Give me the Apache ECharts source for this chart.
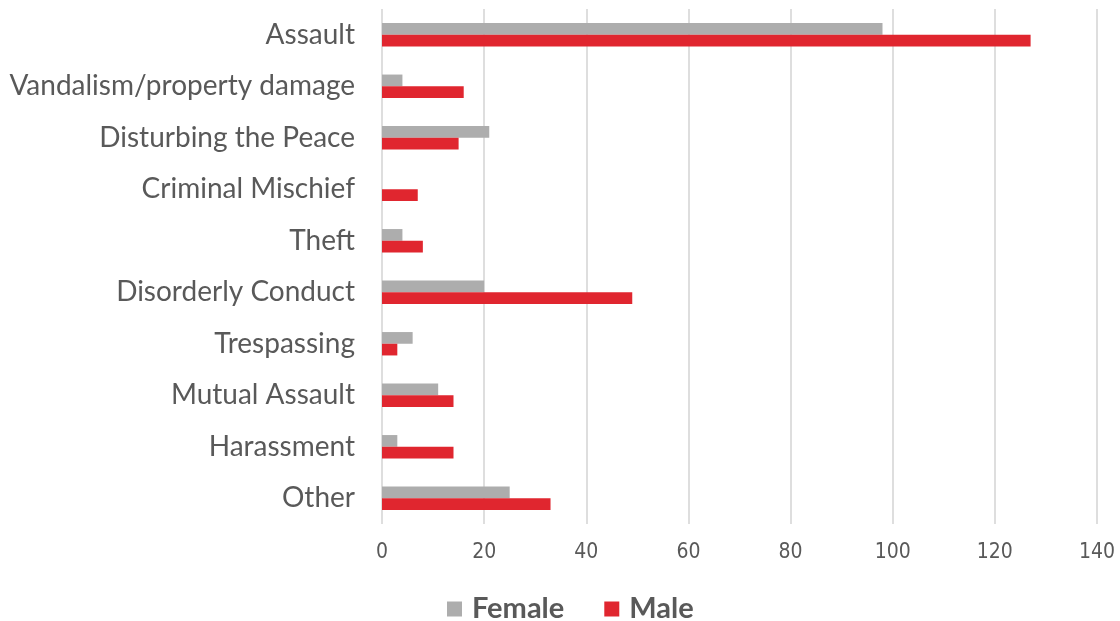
<!DOCTYPE html>
<html>
<head>
<meta charset="utf-8">
<script src="https://cdn.jsdelivr.net/npm/echarts@6/dist/echarts.min.js"></script>
<style>
  html, body { margin: 0; padding: 0; background: #ffffff; }
  #chart { width: 1120px; height: 621px; }
</style>
</head>
<body>
<div id="chart"></div>
<script>
// Offense categories, listed top to bottom
const categories = [
  'Assault',
  'Vandalism/property damage',
  'Disturbing the Peace',
  'Criminal Mischief',
  'Theft',
  'Disorderly Conduct',
  'Trespassing',
  'Mutual Assault',
  'Harassment',
  'Other'
];

// Counts by sex
const femaleValues = [98, 4, 21, 0, 4, 20, 6, 11, 3, 25];
const maleValues = [127, 16, 15, 7, 8, 49, 3, 14, 14, 33];

// Value axis ticks
const xTicks = [0, 20, 40, 60, 80, 100, 120, 140];

const chart = echarts.init(document.getElementById('chart'));

chart.setOption({
  animation: false,
  backgroundColor: '#ffffff',
  grid: {
    left: 382,
    right: 23,
    top: 9,
    bottom: 97,
    containLabel: false
  },
  legend: {
    data: ['Female', 'Male'],
    left: 447,
    top: 592,
    icon: 'rect',
    itemWidth: 15,
    itemHeight: 15,
    itemGap: 40,
    padding: 0,
    textStyle: {
      fontFamily: 'Lato',
      fontWeight: 'bold',
      fontSize: 29,
      lineHeight: 34,
      color: '#595959',
      padding: [0, 0, 0, 5]
    }
  },
  xAxis: {
    type: 'value',
    min: xTicks[0],
    max: xTicks[xTicks.length - 1],
    interval: xTicks[1] - xTicks[0],
    axisLine: { show: false },
    axisTick: { show: false },
    splitLine: { show: true, lineStyle: { color: '#dedede', width: 2 } },
    axisLabel: {
      margin: 18,
      fontFamily: '"DejaVu Sans Condensed", "Liberation Sans Narrow", sans-serif',
      fontSize: 21,
      color: '#595959'
    }
  },
  yAxis: {
    type: 'category',
    data: categories,
    inverse: true,
    axisLine: { show: false },
    axisTick: { show: false },
    axisLabel: {
      margin: 27,
      fontFamily: 'Lato',
      fontSize: 28,
      color: '#595959'
    }
  },
  series: [
    {
      name: 'Female',
      type: 'bar',
      data: femaleValues,
      barWidth: 11.7,
      barGap: '0%',
      itemStyle: { color: '#adadad' }
    },
    {
      name: 'Male',
      type: 'bar',
      data: maleValues,
      barWidth: 11.7,
      barGap: '0%',
      itemStyle: { color: '#e0262f' }
    }
  ]
});
</script>
</body>
</html>
